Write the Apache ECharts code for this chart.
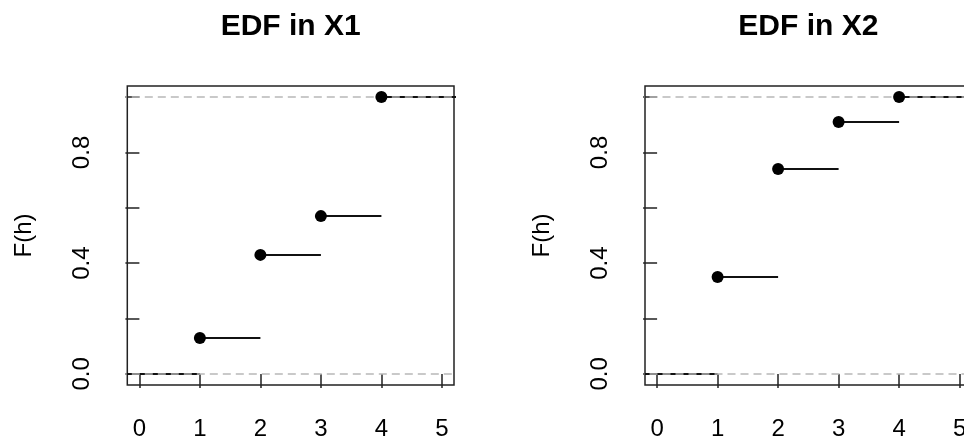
<!DOCTYPE html>
<html>
<head>
<meta charset="utf-8">
<script src="https://cdn.jsdelivr.net/npm/echarts@6/dist/echarts.min.js"></script>
<style>
html,body{margin:0;padding:0;background:#fff;overflow:hidden;width:964px;height:442px;}
#chart{width:1040px;height:442px;}
</style>
</head>
<body>
<div id="chart"></div>
<script>
// ---- data ----
const panelTitles = ['EDF in X1', 'EDF in X2'];
const xTicks = [0, 1, 2, 3, 4, 5];
const yTicks = [0, 0.2, 0.4, 0.6, 0.8, 1.0];
const yTickLabels = [0, 0.4, 0.8];
const x1Knots = [1, 2, 3, 4];
const x1Edf = [0.13, 0.43, 0.57, 1.0];
const x2Knots = [1, 2, 3, 4];
const x2Edf = [0.35, 0.74, 0.91, 1.0];
const yAxisName = 'F(h)';
const xLim = [-0.2, 5.2];
const yLim = [-0.04, 1.04];
const refLines = [0, 1];

const FONT = '"Liberation Sans", Arial, sans-serif';
const INK = '#000';
const BOX = '#222';

const gridW = 326.7, gridTop = 86, gridH = 299;
const panels = [
  { knots: x1Knots, edf: x1Edf, left: 127.3 },
  { knots: x2Knots, edf: x2Edf, left: 645 }
];

const grids = [], xAxes = [], yAxes = [], series = [], graphics = [];

panels.forEach((p, i) => {
  grids.push({ left: p.left, width: gridW, top: gridTop, height: gridH,
    show: true, borderColor: BOX, borderWidth: 1.5, backgroundColor: 'transparent' });
  xAxes.push({
    type: 'value', gridIndex: i, min: xLim[0], max: xLim[1],
    splitLine: { show: false },
    axisLine: { show: false },
    axisTick: { show: true, customValues: xTicks, length: 14, inside: false,
      lineStyle: { color: BOX, width: 1.5 } },
    axisLabel: { show: true, customValues: xTicks, margin: 32, color: INK,
      fontFamily: FONT, fontSize: 24, formatter: v => String(v) }
  });
  yAxes.push({
    type: 'value', gridIndex: i, min: yLim[0], max: yLim[1],
    splitLine: { show: false },
    axisLine: { show: false },
    axisTick: { show: true, customValues: yTicks, length: 14, inside: false,
      lineStyle: { color: BOX, width: 1.5 } },
    axisLabel: { show: true, customValues: yTickLabels, margin: 33, rotate: 90, color: INK,
      fontFamily: FONT, fontSize: 24, formatter: v => v.toFixed(1) },
    name: yAxisName, nameLocation: 'middle', nameGap: 91, nameRotate: 90,
    nameTextStyle: { color: INK, fontFamily: FONT, fontSize: 24 }
  });

  // step segments (R plot.stepfun extends outer segments beyond the limits)
  const dr = 1;
  const ti = [xLim[0] - dr].concat(p.knots, [xLim[1] + dr]);
  const yv = [0].concat(p.edf);
  const segData = [];
  for (let k = 0; k < yv.length; k++) {
    segData.push([ti[k], yv[k]]);
    segData.push([ti[k + 1], yv[k]]);
    segData.push([ti[k + 1], '-']);
  }
  series.push({
    type: 'line', xAxisIndex: i, yAxisIndex: i, data: segData,
    showSymbol: false, symbol: 'none', connectNulls: false, clip: true,
    lineStyle: { color: '#111', width: 2 }, z: 2, silent: true, animation: false
  });

  // grey dashed reference lines
  refLines.forEach(h => {
    series.push({
      type: 'line', xAxisIndex: i, yAxisIndex: i,
      data: [[xLim[0] - dr, h], [xLim[1] + dr, h]],
      showSymbol: false, symbol: 'none', clip: true,
      lineStyle: { color: '#b8b8b8', width: 1.5, type: [8, 5] }, z: 3, silent: true, animation: false
    });
  });

  // points
  series.push({
    type: 'scatter', xAxisIndex: i, yAxisIndex: i,
    data: p.knots.map((x, k) => [x, p.edf[k]]),
    symbol: 'circle', symbolSize: 12, itemStyle: { color: '#000', opacity: 1 }, z: 4,
    silent: true, animation: false
  });

  graphics.push({
    type: 'text', x: p.left + gridW / 2, y: 27,
    style: { text: panelTitles[i], font: 'bold 30px ' + FONT, fill: INK,
      textAlign: 'center', textVerticalAlign: 'middle' }
  });
});

const chart = echarts.init(document.getElementById('chart'), null, { renderer: 'canvas' });
chart.setOption({
  animation: false,
  backgroundColor: '#fff',
  grid: grids, xAxis: xAxes, yAxis: yAxes, series: series, graphic: graphics
});
</script>
</body>
</html>
